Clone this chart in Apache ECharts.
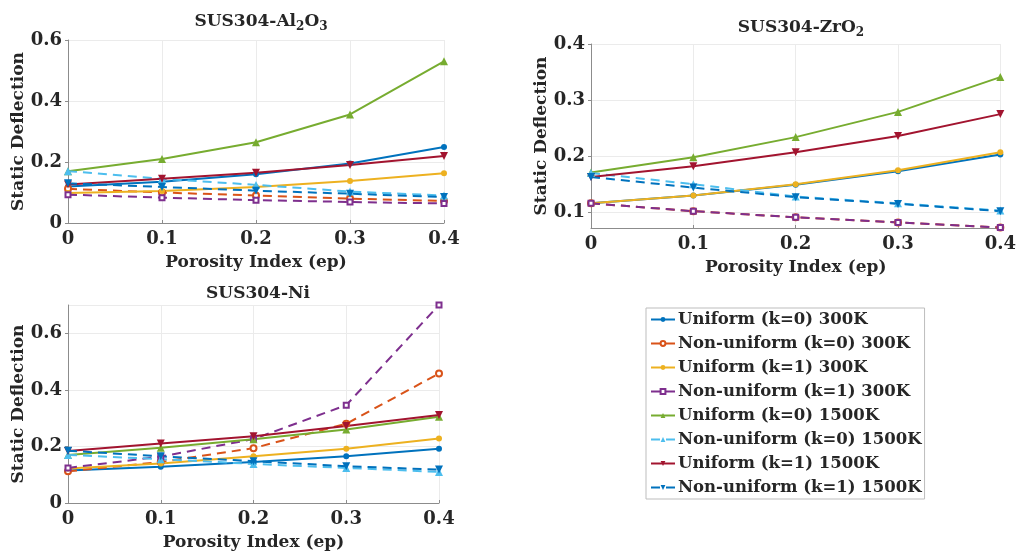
<!DOCTYPE html>
<html>
<head>
<meta charset="utf-8">
<script src="https://cdn.jsdelivr.net/npm/echarts@6/dist/echarts.min.js"></script>
<style>
  html, body { margin: 0; padding: 0; background: #fff; }
  #main { width: 1019px; height: 559px; }
</style>
</head>
<body>
<div id="main"></div>
<script>
// porosity index values on the x axis
const porosity = [0, 0.1, 0.2, 0.3, 0.4]

const seriesNames = [
  'Uniform (k=0) 300K',
  'Non-uniform (k=0) 300K',
  'Uniform (k=1) 300K',
  'Non-uniform (k=1) 300K',
  'Uniform (k=0) 1500K',
  'Non-uniform (k=0) 1500K',
  'Uniform (k=1) 1500K',
  'Non-uniform (k=1) 1500K'
]

// static deflection, one row per series (same order as seriesNames)
const al2o3Values = [
  [0.120, 0.135, 0.160, 0.195, 0.249],
  [0.112, 0.100, 0.090, 0.080, 0.072],
  [0.098, 0.105, 0.118, 0.138, 0.163],
  [0.093, 0.083, 0.075, 0.069, 0.064],
  [0.170, 0.210, 0.265, 0.356, 0.530],
  [0.170, 0.145, 0.125, 0.103, 0.090],
  [0.126, 0.145, 0.165, 0.190, 0.220],
  [0.130, 0.118, 0.106, 0.096, 0.085]
]

const zro2Values = [
  [0.116, 0.130, 0.149, 0.173, 0.203],
  [0.116, 0.102, 0.091, 0.082, 0.073],
  [0.116, 0.130, 0.150, 0.175, 0.207],
  [0.116, 0.102, 0.091, 0.082, 0.073],
  [0.171, 0.198, 0.234, 0.279, 0.341],
  [0.170, 0.150, 0.128, 0.116, 0.103],
  [0.163, 0.182, 0.207, 0.236, 0.275],
  [0.163, 0.144, 0.127, 0.115, 0.102]
]

const niValues = [
  [0.115, 0.128, 0.145, 0.165, 0.192],
  [0.112, 0.145, 0.194, 0.280, 0.458],
  [0.122, 0.140, 0.165, 0.192, 0.228],
  [0.124, 0.164, 0.226, 0.346, 0.700],
  [0.170, 0.195, 0.225, 0.260, 0.305],
  [0.170, 0.155, 0.138, 0.124, 0.110],
  [0.184, 0.210, 0.236, 0.272, 0.311],
  [0.185, 0.165, 0.148, 0.130, 0.118]
]

// y axis ranges per panel [min, max, interval]
const yRanges = [[0, 0.6, 0.2], [0.072, 0.4, null], [0, 0.7, 0.2]]

// 线条样式 (MATLAB 默认配色)
const colors = ['#0072BD', '#D95319', '#EDB120', '#7E2F8E', '#77AC30', '#4DBEEE', '#A2142F', '#0072BD']
const symbols = ['circle', 'emptyCircle', 'circle', 'emptyRect', 'triangle', 'triangle', 'triangle', 'triangle']
const symbolSizes = [6, 6, 6, 5, 8, 8, 8, 8]
const rotates = [0, 0, 0, 0, 0, 0, 180, 180]
const dashed = [false, true, false, true, false, true, false, true]

const fontFamily = 'DejaVu Serif'
const textColor = '#262626'

const grids = [
  { left: 68, top: 40, width: 376, height: 183 },
  { left: 591, top: 44, width: 411, height: 184 },
  { left: 68, top: 305, width: 371, height: 198 }
]

const titles = [
  { x: 256, y: 6, text: '{a|SUS304-Al}{s|2}{a|O}{s|3}' },
  { x: 796, y: 12, text: '{a|SUS304-ZrO}{s|2}' },
  { x: 253, y: 280, text: '{a|SUS304-Ni}' }
]

const myChart = echarts.init(document.getElementById('main'), null, { renderer: 'canvas' })

const axisLine = { show: true, lineStyle: { color: '#8c8c8c', width: 1 } }
const splitLine = { show: true, lineStyle: { color: '#ebebeb', width: 1 } }
const labelStyle = { color: textColor, fontFamily: fontFamily, fontWeight: 'bold', fontSize: 18 }
const nameStyle = { color: textColor, fontFamily: fontFamily, fontWeight: 'bold', fontSize: 17 }
const fmt = v => (v === 0 ? '0' : v.toFixed(1))

let xAxis = []
let yAxis = []
let series = []

grids.forEach((g, i) => {
  xAxis.push({
    type: 'value',
    gridIndex: i,
    min: 0,
    max: 0.4,
    interval: 0.1,
    name: 'Porosity Index (ep)',
    nameLocation: 'middle',
    nameGap: 31,
    nameTextStyle: nameStyle,
    axisLine: axisLine,
    axisTick: { show: true, inside: true, length: 3, lineStyle: { color: '#8c8c8c' } },
    axisLabel: Object.assign({ margin: 7, formatter: fmt }, labelStyle),
    splitLine: splitLine
  })
  const r = yRanges[i]
  let y = {
    type: 'value',
    gridIndex: i,
    min: r[0],
    max: r[1],
    name: 'Static Deflection',
    nameLocation: 'middle',
    nameGap: 40,
    nameTextStyle: nameStyle,
    axisLine: axisLine,
    axisTick: { show: true, inside: false, length: 3, lineStyle: { color: '#8c8c8c' } },
    axisLabel: Object.assign({ margin: 6, formatter: fmt }, labelStyle),
    splitLine: splitLine
  }
  if (r[2]) {
    y.interval = r[2]
    // 0.7 不是刻度
    if (Math.round(r[1] / r[2] * 1000) % 1000 !== 0) y.axisLabel.showMaxLabel = false
  } else {
    y.splitNumber = 3
    y.axisLabel.showMinLabel = false
  }
  yAxis.push(y)
})

const panelValues = [al2o3Values, zro2Values, niValues]
panelValues.forEach((vals, gi) => {
  vals.forEach((row, si) => {
    series.push({
      name: seriesNames[si],
      type: 'line',
      xAxisIndex: gi,
      yAxisIndex: gi,
      data: row.map((v, k) => [porosity[k], v]),
      color: colors[si],
      symbol: symbols[si],
      symbolSize: symbolSizes[si],
      symbolRotate: rotates[si],
      lineStyle: { width: 2, type: dashed[si] ? [9, 6] : 'solid' },
      itemStyle: { borderWidth: symbols[si].indexOf('empty') === 0 ? 1.5 : 0 },
      emphasis: { disabled: true },
      animation: false
    })
  })
})

const option = {
  animation: false,
  textStyle: { fontFamily: fontFamily },
  title: titles.map(t => ({
    text: t.text,
    left: t.x,
    top: t.y,
    textAlign: 'center',
    textStyle: {
      rich: {
        a: { fontFamily: fontFamily, fontWeight: 'bold', fontSize: 17, color: textColor },
        s: { fontFamily: fontFamily, fontWeight: 'bold', fontSize: 12, color: textColor, padding: [10, 0, 0, 0] }
      }
    }
  })),
  legend: {
    data: seriesNames,
    orient: 'vertical',
    left: 646,
    top: 308,
    backgroundColor: '#fff',
    borderColor: '#bdbdbd',
    borderWidth: 1,
    borderRadius: 0,
    padding: [3, 3, 3, 4],
    itemGap: 7,
    itemWidth: 24,
    itemHeight: 6,
    textStyle: { color: textColor, fontFamily: fontFamily, fontWeight: 'bold', fontSize: 16.5, padding: [0, 0, 0, -2] }
  },
  grid: grids,
  xAxis: xAxis,
  yAxis: yAxis,
  series: series
}

option && myChart.setOption(option)
</script>
</body>
</html>
